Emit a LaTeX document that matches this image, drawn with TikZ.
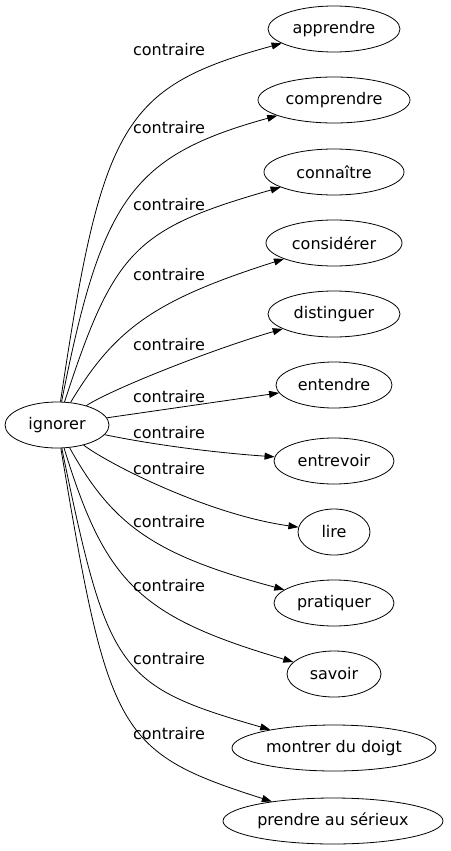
\documentclass[tikz,border=0pt]{standalone}
\usepackage{fontspec}
\setmainfont{DejaVu Sans}
\usetikzlibrary{shapes.geometric,arrows.meta}
\begin{document}
\begin{tikzpicture}[x=1pt,y=-1pt,
  every node/.style={font=\fontsize{16}{18}\selectfont},
  term/.style={draw,ellipse,inner sep=0pt,line width=0.8pt,minimum height=46pt},
  lab/.style={inner sep=0pt},
  rel/.style={-{Triangle[length=10pt,width=7pt]},line width=0.8pt}]
\useasboundingbox (0,0) rectangle (450,851);
\node[term,minimum width=104pt] (ig) at (57,425) {ignorer};
\node[term,minimum width=132pt] (t1) at (334,29) {apprendre};
\node[term,minimum width=152pt] (t2) at (334,100) {comprendre};
\node[term,minimum width=140pt] (t3) at (334,172) {connaître};
\node[term,minimum width=136pt] (t4) at (334,243) {considérer};
\node[term,minimum width=132pt] (t5) at (334,314) {distinguer};
\node[term,minimum width=116pt] (t6) at (334,385) {entendre};
\node[term,minimum width=120pt] (t7) at (334,461) {entrevoir};
\node[term,minimum width=72pt] (t8) at (334,532) {lire};
\node[term,minimum width=120pt] (t9) at (334,603) {pratiquer};
\node[term,minimum width=94pt] (t10) at (334,674) {savoir};
\node[term,minimum width=204pt] (t11) at (334,748) {montrer du doigt};
\node[term,minimum width=220pt] (t12) at (333,821) {prendre au sérieux};
\node[lab] (l1) at (169,50) {contraire};
\node[lab] (l2) at (169,128) {contraire};
\node[lab] (l3) at (169,205) {contraire};
\node[lab] (l4) at (169,275) {contraire};
\node[lab] (l5) at (169,345) {contraire};
\node[lab] (l6) at (169,397) {contraire};
\node[lab] (l7) at (169,433) {contraire};
\node[lab] (l8) at (169,469) {contraire};
\node[lab] (l9) at (169,522) {contraire};
\node[lab] (l10) at (169,586) {contraire};
\node[lab] (l11) at (169,659) {contraire};
\node[lab] (l12) at (169,734) {contraire};
\draw[rel] (ig) .. controls (101.9,123.2) and (122.7,86.9) .. (t1);
\draw[rel] (ig) .. controls (101.6,198.9) and (131.6,155.8) .. (t2);
\draw[rel] (ig) .. controls (113.9,250.5) and (134.3,229) .. (t3);
\draw[rel] (ig) .. controls (115.3,328) and (155.5,299.8) .. (t4);
\draw[rel] (ig) .. controls (110,390) and (210,350) .. (t5);
\draw[rel] (ig) -- (t6);
\draw[rel] (ig) .. controls (160,446) and (220,453) .. (t7);
\draw[rel] (ig) .. controls (110,465) and (210,515) .. (t8);
\draw[rel] (ig) .. controls (112.8,525.6) and (154.6,555) .. (t9);
\draw[rel] (ig) .. controls (105.5,583) and (139,616.5) .. (t10);
\draw[rel] (ig) .. controls (107.8,671.5) and (117.3,685.8) .. (t11);
\draw[rel] (ig) .. controls (108.4,734.4) and (117.6,752.3) .. (t12);
\end{tikzpicture}
\end{document}
